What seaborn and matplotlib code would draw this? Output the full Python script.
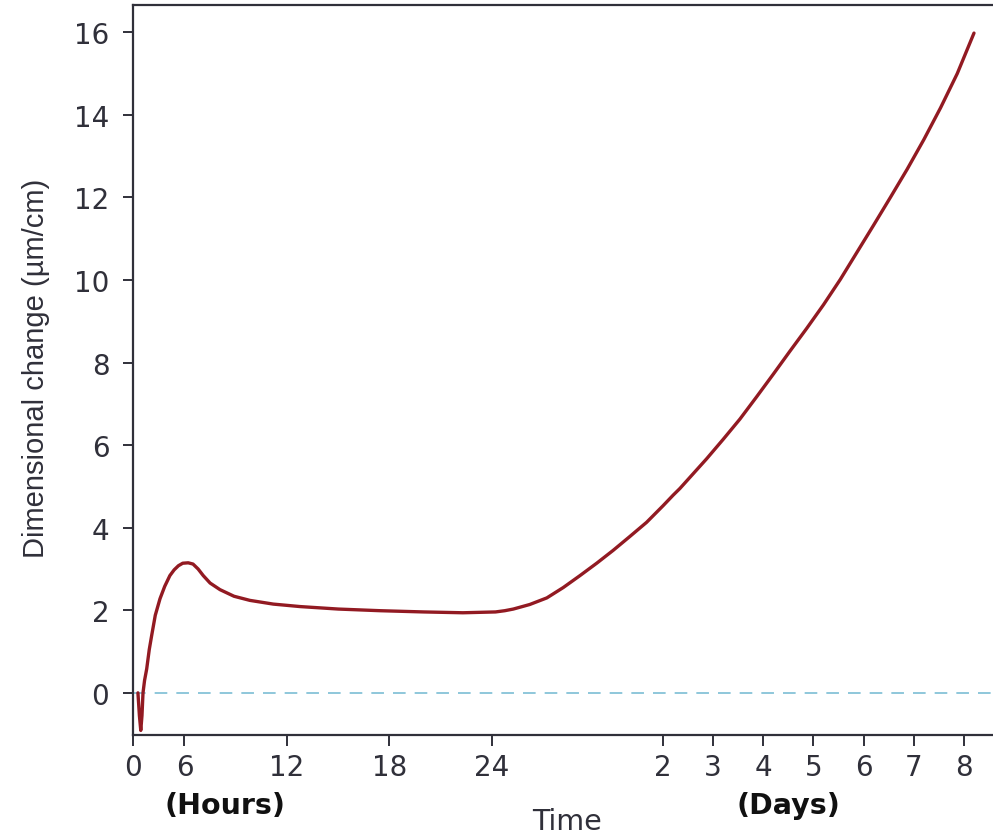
import numpy as np
import pandas as pd
import matplotlib
matplotlib.use('Agg')
import matplotlib.pyplot as plt
import seaborn as sns

# Curve (time in hours, change in um/cm)
time_h = [0.58, 0.75, 0.91, 1.05, 1.17, 1.35, 1.6, 1.9, 2.18, 2.6, 3.15,
          3.7, 4.3, 4.8, 5.3, 5.8, 6.22, 6.5, 6.8, 7.1, 7.5, 8.08, 8.9, 9.83,
          11.2, 12.77, 15.0, 17.45, 20.0, 22.3, 24.5, 25.8, 27.0, 29.3, 31.7,
          34.0, 36.35, 38.7, 41.0, 43.3, 45.7, 48.0, 52.9, 56.1, 60.9,
          68.9, 76.8, 84.8, 92.8, 100.8, 108.8, 116.8, 124.8, 132.8, 140.8,
          148.8, 156.8, 164.8, 172.8, 180.8, 188.8, 196.8]
change = [0.0, -0.55, -0.91, -0.55, 0.0, 0.3, 0.58, 1.05, 1.39, 1.88, 2.28,
          2.58, 2.84, 2.98, 3.08, 3.14, 3.15, 3.12, 3.0, 2.84, 2.66, 2.50, 2.34, 2.24,
          2.15, 2.09, 2.03, 1.99, 1.96, 1.94, 1.96, 1.99, 2.03, 2.14, 2.30,
          2.55, 2.84, 3.14, 3.45, 3.78, 4.13, 4.53, 4.79, 4.95, 5.22,
          5.67, 6.14, 6.63, 7.17, 7.72, 8.28, 8.83, 9.40, 10.01, 10.67,
          11.33, 12.00, 12.68, 13.40, 14.17, 15.00, 15.98]

# Broken time axis: hours then days
hour_breaks = [0, 6, 24, 48, 192, 240]
pos_breaks = [0, 51.5, 359, 530, 831, 931.3]
tick_hours = [0, 6, 12, 18, 24, 48, 72, 96, 120, 144, 168, 192]
tick_labels = ['0', '6', '12', '18', '24', '2', '3', '4', '5', '6', '7', '8']
y_ticks = [0, 2, 4, 6, 8, 10, 12, 14, 16]


def fwd(h):
    return np.interp(h, hour_breaks, pos_breaks)


def inv(p):
    return np.interp(p, pos_breaks, hour_breaks)


sns.set_theme(style='ticks')
plt.rcParams['font.family'] = ['DejaVu Sans']

df = pd.DataFrame({'time': time_h, 'change': change})

fig = plt.figure(figsize=(9.93, 8.37), dpi=100)
ax = fig.add_axes([0.1339, 0.1207, 0.8661, 0.8721])
ax.set_xscale('function', functions=(fwd, inv))

ax.axhline(0, color='#86c3d8', lw=1.3, ls=(0, (7, 5)), zorder=1)
sns.lineplot(data=df, x='time', y='change', ax=ax, color='#921a22',
             lw=2.4, estimator=None, sort=False, zorder=3)

ax.set_xlim(0, 205.9)
ax.set_ylim(-1.02, 16.66)
ax.set_xticks(tick_hours)
ax.set_xticklabels(tick_labels)
ax.set_yticks(y_ticks)
ax.minorticks_off()

grey = '#30303a'
for s in ['left', 'bottom', 'top']:
    ax.spines[s].set_color(grey)
    ax.spines[s].set_linewidth(1.6)
ax.spines['right'].set_visible(False)
ax.tick_params(axis='both', colors=grey, labelsize=20, width=1.4)
ax.tick_params(axis='x', length=8, pad=5)
ax.tick_params(axis='y', length=7, pad=10)

ax.set_xlabel('')
ax.set_ylabel('Dimensional change (\u00b5m/cm)', fontsize=21, color=grey,
              family=['Liberation Sans', 'DejaVu Sans'])
ax.yaxis.set_label_coords(-0.0965, 0.503)

fig.text(225 / 993, 1 - 806 / 837, '(Hours)', ha='center', va='center',
         fontsize=20.5, fontweight='bold', color='#111111')
fig.text(788 / 993, 1 - 806 / 837, '(Days)', ha='center', va='center',
         fontsize=20.5, fontweight='bold', color='#111111')
fig.text(567 / 993, 1 - 822 / 837, 'Time', ha='center', va='center',
         fontsize=20.5, color=grey)

fig.savefig('out.png', dpi=100)
